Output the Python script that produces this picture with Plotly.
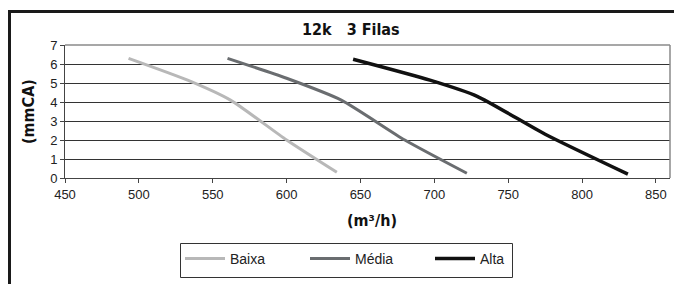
import plotly.graph_objects as go

# Data
baixa_x = [493, 533, 562, 600, 634]
baixa_y = [6.3, 5.15, 4.1, 2.0, 0.3]
media_x = [560, 600, 637, 680, 722]
media_y = [6.3, 5.25, 4.1, 2.0, 0.25]
alta_x = [645, 697, 729, 775, 831]
alta_y = [6.25, 5.15, 4.3, 2.3, 0.2]

series_names = ["Baixa", "Média", "Alta"]
title_text = "12k   3 Filas"
x_title = "(m³/h)"
y_title = "(mmCA)"

FONT = "Liberation Sans, Arial, sans-serif"
NARROW = "DejaVu Sans Condensed, Liberation Sans, Arial, sans-serif"

fig = go.Figure()
fig.add_trace(go.Scatter(x=baixa_x, y=baixa_y, name=series_names[0], mode="lines",
                         line=dict(color="#b8b8b8", width=3, shape="spline", smoothing=0.6)))
fig.add_trace(go.Scatter(x=media_x, y=media_y, name=series_names[1], mode="lines",
                         line=dict(color="#6a6d70", width=3, shape="spline", smoothing=0.6)))
fig.add_trace(go.Scatter(x=alta_x, y=alta_y, name=series_names[2], mode="lines",
                         line=dict(color="#111111", width=3.5, shape="spline", smoothing=0.6)))

L, R, T, B = 65, 4, 45, 106
W, H = 674, 284
pw, ph = W - L - R, H - T - B

def px(x):
    return (x - L) / pw

def py(y):
    return (H - B - y) / ph

fig.update_layout(
    width=W, height=H,
    margin=dict(l=L, r=R, t=T, b=B, autoexpand=False),
    paper_bgcolor="white", plot_bgcolor="white",
    font=dict(family=FONT, size=13, color="#222"),
    showlegend=True,
    legend=dict(orientation="h", x=px(180), y=py(243), xanchor="left", yanchor="top",
                borderwidth=0, bgcolor="rgba(0,0,0,0)",
                font=dict(family=FONT, size=14, color="#222"),
                entrywidth=70, entrywidthmode="pixels", itemwidth=40,
                tracegroupgap=0),
    xaxis=dict(range=[450, 859.5], tickvals=[450, 500, 550, 600, 650, 700, 750, 800, 850],
               showgrid=False, zeroline=False, showline=True, linecolor="#444", linewidth=1,
               ticks="outside", ticklen=4, tickcolor="#444",
               tickfont=dict(family=FONT, size=13, color="#222")),
    yaxis=dict(range=[0, 7], tickvals=[0, 1, 2, 3, 4, 5, 6, 7],
               showgrid=True, gridcolor="#333", gridwidth=1, zeroline=False,
               showline=True, linecolor="#444", linewidth=1,
               ticks="outside", ticklen=4, tickcolor="#444",
               tickfont=dict(family=FONT, size=13, color="#222")),
    shapes=[
        dict(type="line", xref="paper", yref="paper", x0=0, x1=1, y0=1, y1=1,
             line=dict(color="#8a8a8a", width=1.5)),
        dict(type="line", xref="paper", yref="paper", x0=1, x1=1, y0=0, y1=1,
             line=dict(color="#8a8a8a", width=1.5)),
        dict(type="line", xref="paper", yref="paper", x0=px(9.5), x1=px(9.5), y0=py(10), y1=py(290),
             line=dict(color="#1a1a1a", width=3)),
        dict(type="line", xref="paper", yref="paper", x0=px(8), x1=px(680), y0=py(11.5), y1=py(11.5),
             line=dict(color="#1a1a1a", width=3)),
        # legend box
        dict(type="rect", xref="paper", yref="paper", x0=px(180.5), x1=px(512.5), y0=py(243.5), y1=py(277.5),
             line=dict(color="#333", width=1), fillcolor="rgba(0,0,0,0)"),
    ],
    annotations=[
        dict(text="<b>" + title_text + "</b>", xref="paper", yref="paper", x=px(351), y=py(29),
             xanchor="center", yanchor="middle", showarrow=False,
             font=dict(family=NARROW, size=16, color="#111")),
        dict(text="<b>" + y_title + "</b>", xref="paper", yref="paper", x=px(28), y=py(112),
             xanchor="center", yanchor="middle", showarrow=False, textangle=-90,
             font=dict(family=NARROW, size=16, color="#111")),
        dict(text="<b>" + x_title + "</b>", xref="paper", yref="paper", x=px(372), y=py(220),
             xanchor="center", yanchor="middle", showarrow=False,
             font=dict(family=NARROW, size=16, color="#111")),
    ],
)

fig.write_html("out.html", config={"displayModeBar": False},
               post_script="document.body.style.margin='0';document.body.style.overflow='hidden';")
